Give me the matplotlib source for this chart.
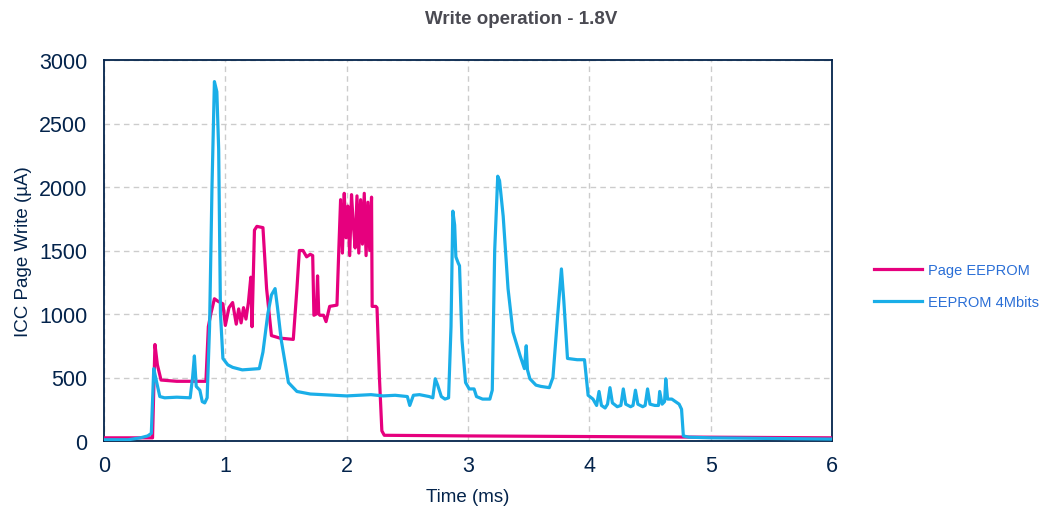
import matplotlib
matplotlib.use("Agg")
import matplotlib.pyplot as plt

plt.rcParams['font.family'] = ['Liberation Sans', 'DejaVu Sans']

title = "Write operation - 1.8V"
x_label = "Time (ms)"
y_label = "ICC Page Write (µA)"
series_names = ["Page EEPROM", "EEPROM 4Mbits"]
x_ticks = [0, 1, 2, 3, 4, 5, 6]
y_ticks = [0, 500, 1000, 1500, 2000, 2500, 3000]

page_t = [0, 0.40, 0.41, 0.42, 0.44, 0.47, 0.60, 0.84, 0.86, 0.88, 0.91, 0.94,
          0.98, 1.00, 1.03, 1.06, 1.09, 1.11, 1.13, 1.15, 1.17, 1.19, 1.21, 1.22,
          1.24, 1.26, 1.31, 1.34, 1.38, 1.45, 1.56, 1.59, 1.61, 1.64, 1.67, 1.70,
          1.72, 1.73, 1.75, 1.76, 1.77, 1.78, 1.81, 1.83, 1.86, 1.92,
          1.935, 1.95, 1.965, 1.98, 1.995, 2.01, 2.025, 2.04, 2.055, 2.07, 2.085,
          2.10, 2.115, 2.13, 2.145, 2.16, 2.175, 2.19, 2.205,
          2.21, 2.24, 2.25, 2.27, 2.29, 2.31, 3.0, 4.0, 5.0, 6.0]
page_v = [25, 25, 400, 760, 600, 480, 470, 470, 900, 1000, 1120, 1100,
          1080, 910, 1050, 1090, 920, 1040, 930, 1050, 960, 1090, 1290, 900,
          1660, 1690, 1680, 1200, 830, 810, 800, 1200, 1500, 1500, 1450, 1470,
          1460, 990, 1000, 1300, 1000, 990, 990, 940, 1060, 1070,
          1500, 1900, 1480, 1950, 1600, 1850, 1460, 1940, 1700, 1520, 1930,
          1480, 1900, 1550, 1950, 1460, 1880, 1500, 1920,
          1060, 1060, 1050, 500, 80, 45, 40, 35, 30, 25]

mb_t = [0, 0.2, 0.3, 0.36, 0.39, 0.41, 0.43, 0.46, 0.5, 0.6, 0.71, 0.73, 0.745,
        0.76, 0.79, 0.81, 0.83, 0.85, 0.87, 0.89, 0.91, 0.93, 0.945, 0.96, 0.98,
        1.02, 1.06, 1.14, 1.28, 1.31, 1.35, 1.38, 1.41, 1.43, 1.46, 1.52, 1.59,
        1.7, 1.8, 1.9, 2.0, 2.1, 2.2, 2.3, 2.4, 2.5, 2.52, 2.55, 2.6, 2.68, 2.71,
        2.73, 2.75, 2.78, 2.81, 2.84, 2.86, 2.875, 2.89, 2.90, 2.92, 2.93, 2.95,
        2.98, 3.01, 3.05, 3.07, 3.12, 3.18, 3.2, 3.22, 3.245, 3.26, 3.29, 3.33,
        3.37, 3.43, 3.465, 3.48, 3.49, 3.51, 3.56, 3.6, 3.67, 3.70, 3.74, 3.77,
        3.79, 3.82, 3.9, 3.96, 3.99, 4.03, 4.06, 4.08, 4.10, 4.13, 4.15, 4.17,
        4.19, 4.23, 4.26, 4.28, 4.30, 4.34, 4.36, 4.38, 4.40, 4.44, 4.46, 4.48,
        4.50, 4.54, 4.57, 4.58, 4.60, 4.62, 4.63, 4.645, 4.68, 4.74, 4.76, 4.775,
        4.82, 5.0, 6.0]
mb_v = [10, 10, 25, 40, 60, 570, 480, 350, 340, 345, 340, 500, 670,
        430, 400, 310, 300, 340, 900, 2000, 2830, 2750, 2300, 1000, 650,
        600, 580, 560, 570, 700, 1000, 1150, 1200, 1050, 800, 460, 390,
        370, 365, 360, 355, 360, 365, 355, 360, 350, 280, 360, 365, 350, 340,
        490, 440, 350, 330, 340, 900, 1810, 1700, 1450, 1400, 1380, 800,
        460, 410, 410, 350, 330, 330, 400, 1500, 2085, 2050, 1770, 1200,
        860, 670, 570, 750, 560, 490, 440, 430, 420, 500, 1000, 1355,
        1100, 650, 640, 640, 360, 330, 280, 390, 280, 260, 290, 420,
        300, 270, 280, 410, 290, 270, 280, 400, 290, 270, 280, 410,
        290, 280, 280, 390, 290, 310, 490, 330, 330, 290, 250, 40,
        30, 25, 15]

navy = '#03234B'
fig = plt.figure(figsize=(10.42, 5.10), dpi=100)
ax = fig.add_axes([104/1042, 1-442/510, (832-104)/1042, (442-61)/510])

l1, = ax.plot(page_t, page_v, color='#E6007E', lw=2.3, label=series_names[0], zorder=3)
l2, = ax.plot(mb_t, mb_v, color='#1AAEE8', lw=2.3, label=series_names[1], zorder=4)

ax.set_xlim(0, 6)
ax.set_ylim(0, 3000)
ax.set_xticks(x_ticks)
ax.set_yticks(y_ticks)
ax.grid(True, color='#CCCCCC', linestyle=(0, (4, 3)), linewidth=1.0)
ax.set_axisbelow(True)
for s in ax.spines.values():
    s.set_color(navy)
    s.set_linewidth(1.3)
ax.tick_params(axis='both', length=0, labelsize=15.5, colors=navy)
ax.tick_params(axis='y', pad=12)
ax.tick_params(axis='x', pad=10)
ax.set_xlabel(x_label, fontsize=13.5, color=navy, labelpad=9)
ax.set_ylabel(y_label, fontsize=13.5, color=navy, labelpad=5)
fig.text(0.5, 1-19/510, title, ha='center', va='center', fontsize=13.5,
         fontweight='bold', color='#4A4A52')

leg = fig.legend(handles=[l1, l2], loc='center left',
                 bbox_to_anchor=(874/1042, 1-287/510), frameon=False,
                 borderpad=0, borderaxespad=0,
                 fontsize=10.5, handlelength=3.3, labelspacing=1.25, handletextpad=0.4)
for t in leg.get_texts():
    t.set_color('#2B6FD6')

fig.savefig('out.png', dpi=100)
